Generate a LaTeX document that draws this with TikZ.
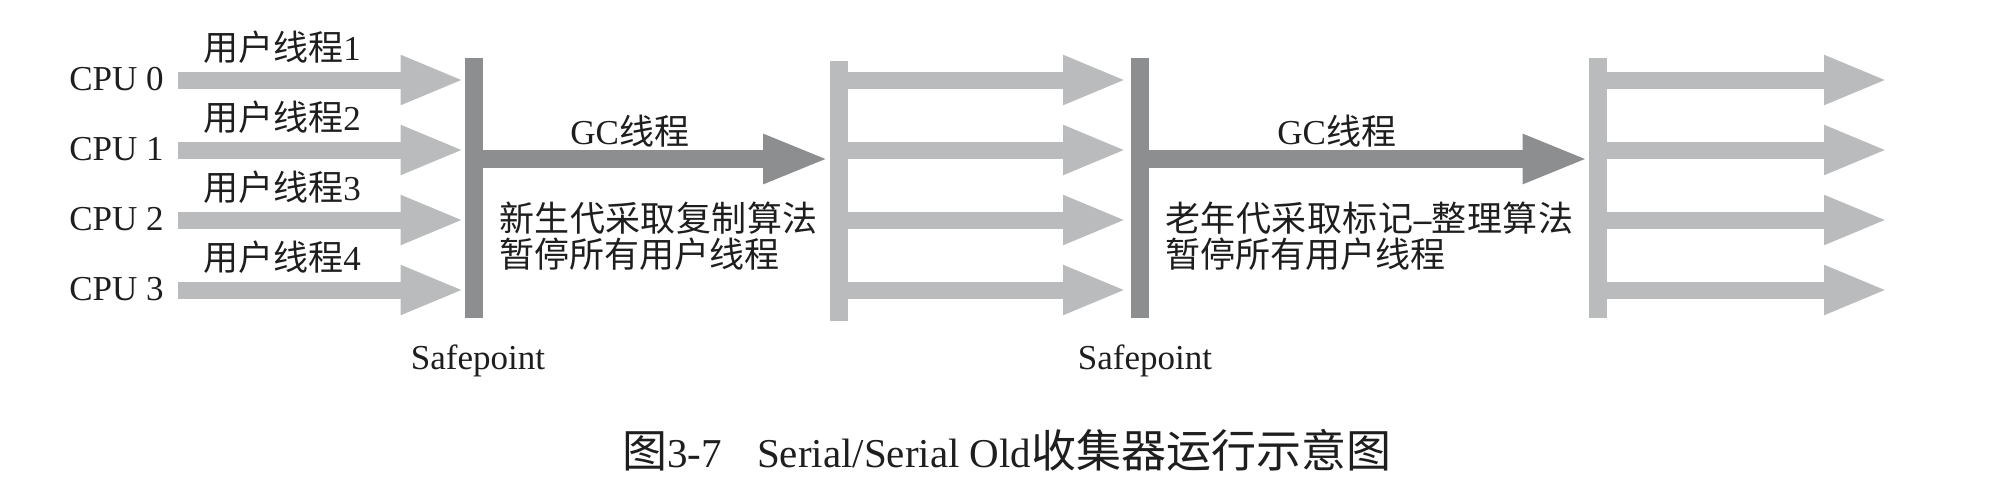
\documentclass[tikz,border=0pt]{standalone}
\usepackage{fontspec}
\setmainfont{Liberation Serif}
\newfontfamily\cjk{Noto Sans CJK SC}
\usetikzlibrary{arrows.meta}
\definecolor{lightg}{RGB}{185,187,189}
\definecolor{darkg}{RGB}{140,142,144}
\definecolor{ink}{RGB}{30,30,30}
\newcommand\capcjk{\cjk\fontsize{22.5pt}{26pt}\selectfont}
\begin{document}
\begin{tikzpicture}[x=0.5pt,y=-0.5pt,
  bar/.style={draw=none,inner sep=0pt,minimum width=9pt,minimum height=130pt},
  darkbar/.style={bar,fill=darkg},
  lightbar/.style={bar,fill=lightg},
  fatlight/.style={line width=8.5pt,draw=lightg,-{Triangle[length=32pt,width=22.5pt]}},
  fatdark/.style={line width=9pt,draw=darkg,-{Triangle[length=33pt,width=22.5pt]}},
  lbl/.style={inner sep=0pt,text=ink,font=\fontsize{17.5pt}{21pt}\selectfont},
  caption/.style={inner sep=0pt,text=ink,font=\fontsize{20.5pt}{24pt}\selectfont},
]
\useasboundingbox[fill=white] (0,0) rectangle (2006,498);

% bars
\node[darkbar]  (sp1)  at (474,188) {};
\node[lightbar] (mid1) at (838.5,191) {};
\node[darkbar]  (sp2)  at (1140,188) {};
\node[lightbar] (fin)  at (1598,188) {};

% rows
\foreach \i/\y/\n in {0/80/1,1/150/2,2/220/3,3/290/4}{
  \node[lbl,anchor=base east] (cpu\i) at (164,\y+10) {CPU \i};
  \node[lbl,anchor=base west] (ut\i) at (203,\y-19.5) {{\cjk 用户线程}\n};
  \coordinate (s\i) at (178,\y);
  \draw[fatlight] (s\i) -- (sp1.west |- s\i);
  \coordinate (m\i) at (1127,\y);
  \draw[fatlight] (mid1.east |- s\i) -- (m\i);
  \coordinate (f\i) at (1888,\y);
  \draw[fatlight] (fin.east |- s\i) -- (f\i);
}

% GC threads
\coordinate (g) at (0,159);
\draw[fatdark] (sp1.east |- g) -- (mid1.west |- g);
\draw[fatdark] (sp2.east |- g) -- (fin.west |- g);
\node[lbl,anchor=base west] (gc1) at (570,144) {GC{\cjk 线程}};
\node[lbl,anchor=base west] (gc2) at (1277,144) {GC{\cjk 线程}};

% descriptions
\node[lbl,anchor=base west] (t1a) at (499,231)
  {\cjk\makebox[159pt][s]{新\hfill 生\hfill 代\hfill 采\hfill 取\hfill 复\hfill 制\hfill 算\hfill 法}};
\node[lbl,anchor=base west] (t1b) at (499,267.5) {\cjk 暂停所有用户线程};
\node[lbl,anchor=base west] (t2a) at (1165,231)
  {\makebox[204pt][s]{{\cjk 老}\hfill{\cjk 年}\hfill{\cjk 代}\hfill{\cjk 采}\hfill{\cjk 取}\hfill{\cjk 标}\hfill{\cjk 记}\hfill\textbf{–}\hfill{\cjk 整}\hfill{\cjk 理}\hfill{\cjk 算}\hfill{\cjk 法}}};
\node[lbl,anchor=base west] (t2b) at (1165,267.5) {\cjk 暂停所有用户线程};

% safepoint labels
\node[lbl,anchor=base] (sl1) at (478,369) {Safepoint};
\node[lbl,anchor=base] (sl2) at (1145,369) {Safepoint};

% caption
\node[caption,anchor=base west] (cap) at (622,467)
  {{\capcjk 图}3-7\hspace{17.5pt}Serial/Serial Old{\capcjk 收集器运行示意图}};
\end{tikzpicture}
\end{document}
